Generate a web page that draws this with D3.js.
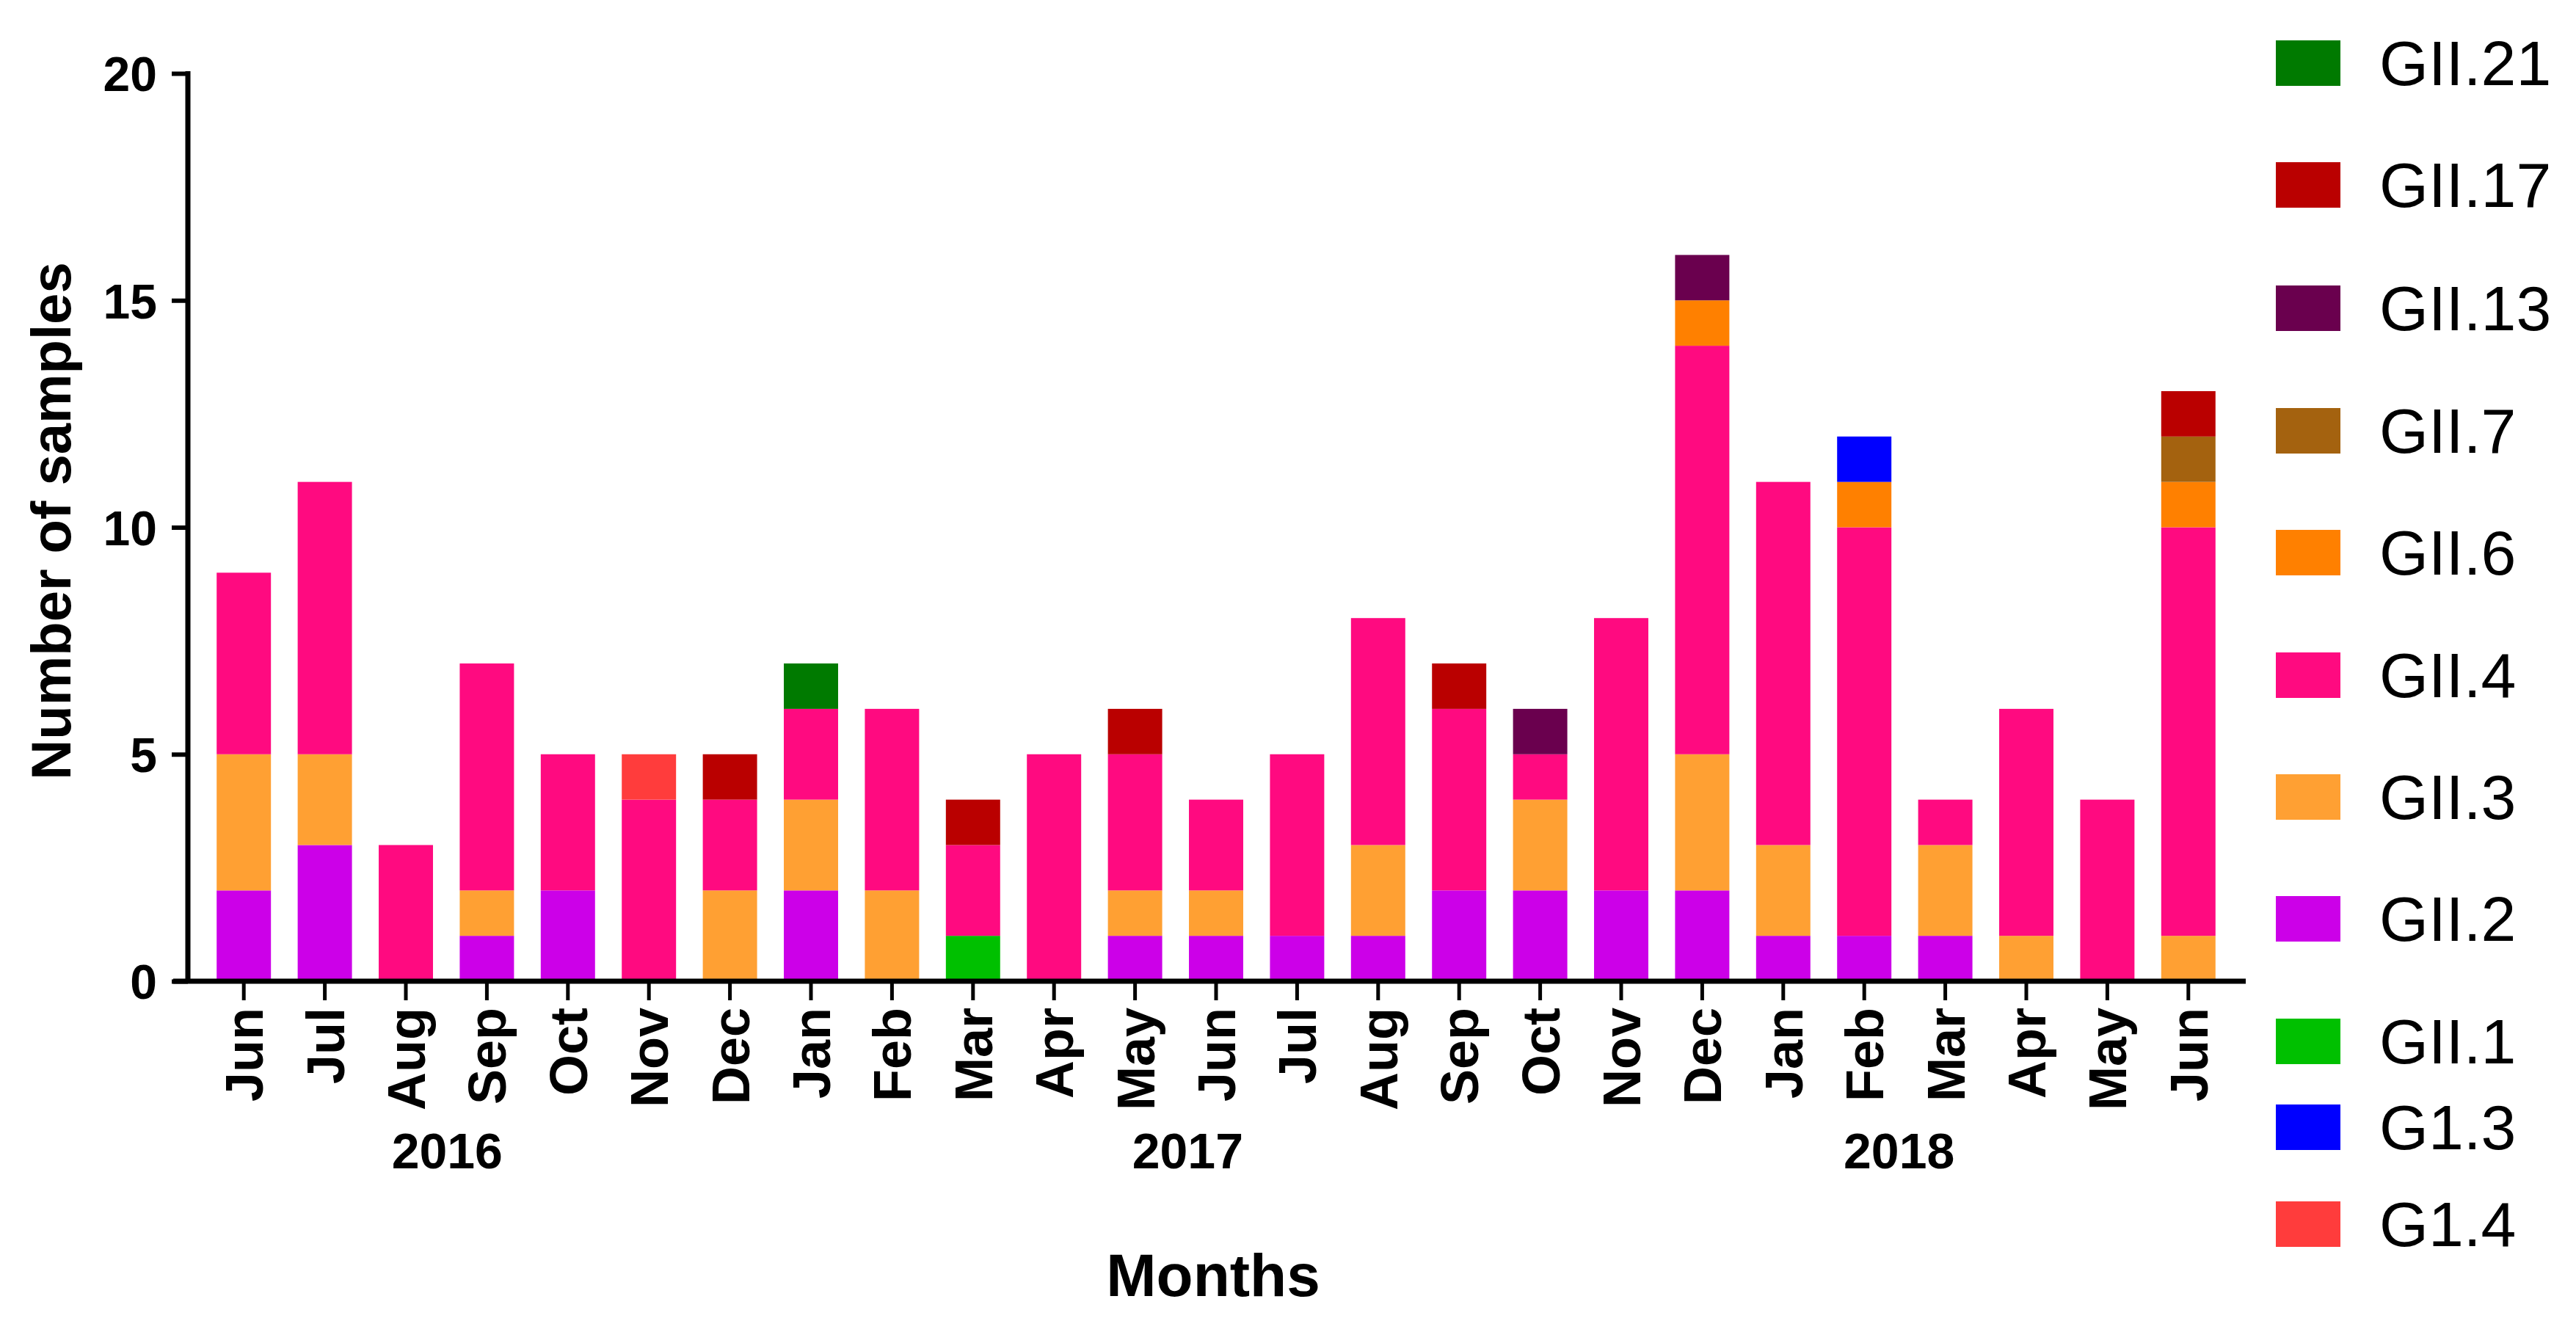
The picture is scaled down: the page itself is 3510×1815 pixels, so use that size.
<!DOCTYPE html>
<html>
<head>
<meta charset="utf-8">
<script src="https://cdn.jsdelivr.net/npm/d3@7"></script>
<style>
  html, body { margin: 0; padding: 0; background: #fff; }
  svg { display: block; font-family: "Liberation Sans", Arial, sans-serif; }
</style>
</head>
<body>
<div id="chart"></div>
<script>
const WIDTH = 3510;
const HEIGHT = 1815;

// month categories (Jun 2016 .. Jun 2018)
const months = ["Jun", "Jul", "Aug", "Sep", "Oct", "Nov", "Dec",
    "Jan", "Feb", "Mar", "Apr", "May", "Jun", "Jul", "Aug", "Sep", "Oct", "Nov", "Dec",
    "Jan", "Feb", "Mar", "Apr", "May", "Jun"];
const years = ["2016", "2017", "2018"];
const yTicks = [0, 5, 10, 15, 20];

// genotype counts per month
const gII1  = [0,0,0,0,0,0,0,0,0,1,0,0,0,0,0,0,0,0,0,0,0,0,0,0,0];
const gII2  = [2,3,0,1,2,0,0,2,0,0,0,1,1,1,1,2,2,2,2,1,1,1,0,0,0];
const gII3  = [3,2,0,1,0,0,2,2,2,0,0,1,1,0,2,0,2,0,3,2,0,2,1,0,1];
const gII4  = [4,6,3,5,3,4,2,2,4,2,5,3,2,4,5,4,1,6,9,8,9,1,5,4,9];
const g14   = [0,0,0,0,0,1,0,0,0,0,0,0,0,0,0,0,0,0,0,0,0,0,0,0,0];
const gII6  = [0,0,0,0,0,0,0,0,0,0,0,0,0,0,0,0,0,0,1,0,1,0,0,0,1];
const gII7  = [0,0,0,0,0,0,0,0,0,0,0,0,0,0,0,0,0,0,0,0,0,0,0,0,1];
const g13   = [0,0,0,0,0,0,0,0,0,0,0,0,0,0,0,0,0,0,0,0,1,0,0,0,0];
const gII13 = [0,0,0,0,0,0,0,0,0,0,0,0,0,0,0,0,1,0,1,0,0,0,0,0,0];
const gII17 = [0,0,0,0,0,0,1,0,0,1,0,1,0,0,0,1,0,0,0,0,0,0,0,0,1];
const gII21 = [0,0,0,0,0,0,0,1,0,0,0,0,0,0,0,0,0,0,0,0,0,0,0,0,0];

// stacking order, bottom to top
const stackKeys = ["GII.1", "GII.2", "GII.3", "GII.4", "G1.4", "GII.6", "GII.7", "G1.3", "GII.13", "GII.17", "GII.21"];
const seriesValues = {
    "GII.1": gII1, "GII.2": gII2, "GII.3": gII3, "GII.4": gII4, "G1.4": g14,
    "GII.6": gII6, "GII.7": gII7, "G1.3": g13, "GII.13": gII13, "GII.17": gII17, "GII.21": gII21
};
// legend order, top to bottom
const legendKeys = ["GII.21", "GII.17", "GII.13", "GII.7", "GII.6", "GII.4", "GII.3", "GII.2", "GII.1", "G1.3", "G1.4"];

const COLORS = {
    "GII.21": "#007a00", "GII.17": "#ba0000", "GII.13": "#6a004e", "GII.7": "#a4620f",
    "GII.6": "#ff8000", "GII.4": "#ff0a80", "GII.3": "#ffa033", "GII.2": "#cc00e8",
    "GII.1": "#00c000", "G1.3": "#0000ff", "G1.4": "#ff3c3c"
};

// build table for d3.stack
const table = months.map((m, i) => {
    const row = { idx: i };
    stackKeys.forEach(k => row[k] = seriesValues[k][i]);
    return row;
});

const svg = d3.select("#chart")
    .append("svg")
    .attr("width", WIDTH)
    .attr("height", HEIGHT)
    .attr("viewBox", `0 0 ${WIDTH} ${HEIGHT}`);

// X scale
const x = d3.scaleBand()
    .domain(d3.range(months.length))
    .range([277, 3037])
    .paddingInner(0.33)
    .paddingOuter(0.165);

// Y scale
const y = d3.scaleLinear()
    .domain([0, 20])
    .range([1337, 100]);

// --- Bars ---
const stacked = d3.stack().keys(stackKeys)(table);

svg.append("g")
    .selectAll("g")
    .data(stacked)
    .join("g")
    .attr("fill", s => COLORS[s.key])
    .selectAll("rect")
    .data(s => s.filter(d => d[1] > d[0]))
    .join("rect")
    .attr("x", d => x(d.data.idx))
    .attr("y", d => y(d[1]))
    .attr("width", x.bandwidth())
    .attr("height", d => y(d[0]) - y(d[1]));

// --- Y axis ---
const yAxis = svg.append("g")
    .attr("transform", "translate(256,0)")
    .call(d3.axisLeft(y).tickValues(yTicks).tickSize(22).tickSizeOuter(0).tickPadding(20));
yAxis.select(".domain").remove();
yAxis.selectAll(".tick line").attr("stroke", "#000").attr("stroke-width", 6);
yAxis.selectAll(".tick text")
    .attr("fill", "#000")
    .style("font-size", "66px")
    .style("font-weight", "bold")
    .attr("dy", "0.36em");

svg.append("line")
    .attr("x1", 256).attr("x2", 256)
    .attr("y1", y(20) - 3).attr("y2", y(0) + 3)
    .attr("stroke", "#000").attr("stroke-width", 7);

// --- X axis ---
const xAxis = svg.append("g")
    .attr("transform", `translate(0,${y(0)})`)
    .call(d3.axisBottom(x).tickSize(26).tickSizeOuter(0).tickFormat(i => months[i]));
xAxis.select(".domain").remove();
xAxis.selectAll(".tick line").attr("stroke", "#000").attr("stroke-width", 5);
xAxis.selectAll(".tick text")
    .attr("fill", "#000")
    .style("font-size", "72px")
    .style("font-weight", "bold")
    .attr("text-anchor", "end")
    .attr("transform", "rotate(-90)")
    .attr("x", -36)
    .attr("y", 0)
    .attr("dy", "0.36em");

svg.append("line")
    .attr("x1", 236).attr("x2", 3060)
    .attr("y1", y(0)).attr("y2", y(0))
    .attr("stroke", "#000").attr("stroke-width", 7);

// --- Year labels ---
const yearPos = [2.51, 11.65, 20.43];
svg.append("g")
    .selectAll("text")
    .data(years)
    .join("text")
    .attr("x", (d, i) => x(0) + x.bandwidth() / 2 + yearPos[i] * x.step())
    .attr("y", 1592)
    .attr("text-anchor", "middle")
    .style("font-size", "68px")
    .style("font-weight", "bold")
    .text(d => d);

// --- Axis titles ---
svg.append("text")
    .attr("x", 1653)
    .attr("y", 1766)
    .attr("text-anchor", "middle")
    .style("font-size", "82px")
    .style("font-weight", "bold")
    .text("Months");

svg.append("text")
    .attr("transform", "translate(96,710) rotate(-90)")
    .attr("text-anchor", "middle")
    .style("font-size", "76px")
    .style("font-weight", "bold")
    .text("Number of samples");

// --- Legend ---
const legendY = [86, 252, 420, 587, 753, 920, 1086, 1252, 1419, 1536, 1668];
const legend = svg.append("g")
    .selectAll("g")
    .data(legendKeys)
    .join("g")
    .attr("transform", (d, i) => `translate(3101,${legendY[i]})`);

legend.append("rect")
    .attr("x", 0).attr("y", -31)
    .attr("width", 88).attr("height", 62)
    .attr("fill", d => COLORS[d]);

legend.append("text")
    .attr("x", 141)
    .attr("y", 30)
    .style("font-size", "86px")
    .text(d => d);
</script>
</body>
</html>
